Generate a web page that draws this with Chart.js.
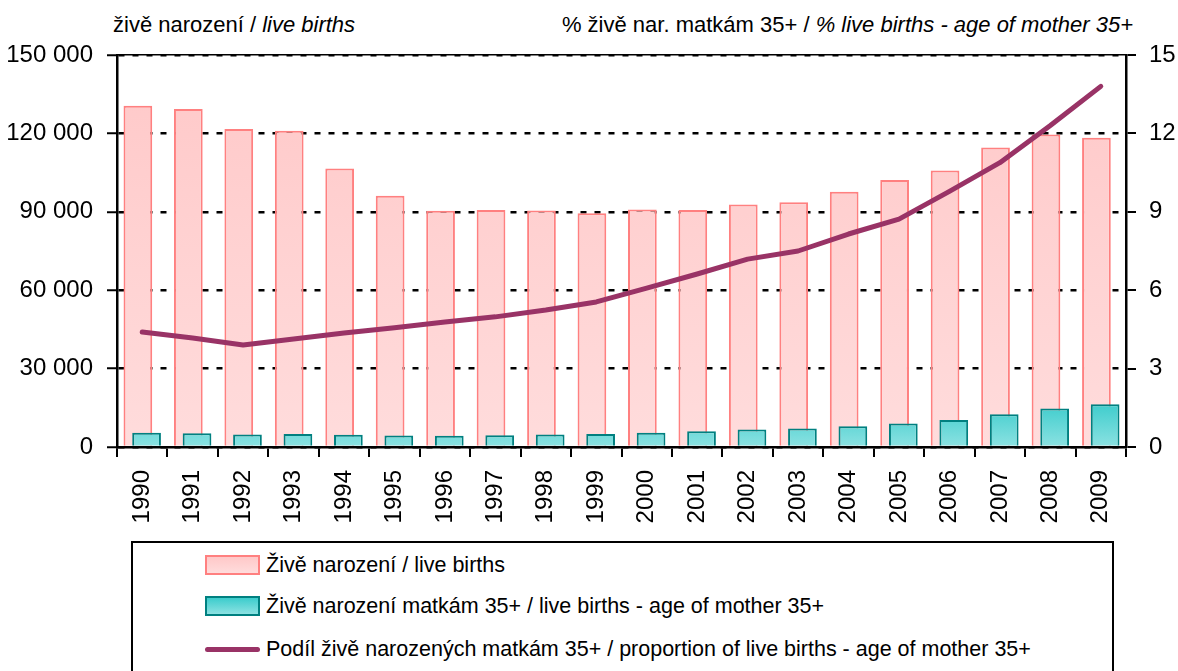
<!DOCTYPE html>
<html>
<head>
<meta charset="utf-8">
<script src="https://cdn.jsdelivr.net/npm/chart.js@4/dist/chart.umd.min.js"></script>
<style>
  html, body { margin: 0; padding: 0; background: #fff; }
  body { font-family: 'Liberation Sans Narrow', 'Arial Narrow', 'Liberation Sans', sans-serif; color: #000; }
  #wrap { position: relative; width: 1178px; height: 671px; overflow: hidden; }
  #plot { position: absolute; left: 0; top: 0; width: 1178px; height: 540px; }
  .ttl { position: absolute; top: 14px; font-size: 22px; line-height: 22px; white-space: nowrap; }
  #legend { position: absolute; left: 131px; top: 541px; width: 979px; height: 160px; border: 2px solid #000; }
  .row { position: absolute; left: 72px; height: 24px; display: flex; align-items: center; font-size: 21.5px; white-space: nowrap; }
  .sw { width: 51px; height: 16px; margin-right: 6px; box-sizing: content-box; }
  .ln { width: 55px; height: 5px; border-radius: 3px; margin-right: 6px; }
</style>
</head>
<body>
<div id="wrap">
  <div class="ttl" style="left:113px">živě narození / <i>live births</i></div>
  <div class="ttl" style="right:45px">% živě nar. matkám 35+ / <i>% live births - age of mother 35+</i></div>
  <div id="plot"><canvas id="chart"></canvas></div>
  <div id="legend"></div>
</div>
<script>
//************ data **************
const years = ['1990', '1991', '1992', '1993', '1994', '1995', '1996', '1997', '1998', '1999',
  '2000', '2001', '2002', '2003', '2004', '2005', '2006', '2007', '2008', '2009'];
// live births
const liveBirths = [130564, 129354, 121705, 121025, 106579, 96097, 90446, 90657, 90535, 89471,
  90910, 90715, 92786, 93685, 97664, 102211, 105831, 114632, 119570, 118348];
// live births, mother aged 35+
const births35 = [5500, 5250, 4750, 5000, 4650, 4400, 4300, 4500, 4750, 5000,
  5500, 6000, 6700, 7050, 7950, 8950, 10350, 12500, 14700, 16400];
// share of live births to mothers 35+ (%)
const share35 = [4.4, 4.17, 3.9, 4.13, 4.36, 4.56, 4.78, 4.98, 5.24, 5.55,
  6.08, 6.62, 7.19, 7.5, 8.15, 8.72, 9.78, 10.88, 12.3, 13.8];
const legendLabels = [
  'Živě narození / live births',
  'Živě narození matkám 35+ / live births - age of mother 35+',
  'Podíl živě narozených matkám 35+ / proportion of live births - age of mother 35+'
];
const leftMax = 150000, leftStep = 30000;
const rightMax = 15, rightStep = 3;

//************ styles **************
const FONT = "'Liberation Sans Narrow', 'Arial Narrow', 'Liberation Sans', sans-serif";
const pinkBorder = '#ff8080';
const tealBorder = '#008080';
const lineColor = '#993366';

Chart.defaults.font.family = FONT;
Chart.defaults.color = '#000';

const spaced = (v) => String(v).replace(/\B(?=(\d{3})+(?!\d))/g, ' ');

const pinkFill = (ctx) => {
  const area = ctx.chart.chartArea;
  if (!area) return '#ffcccc';
  const g = ctx.chart.ctx.createLinearGradient(0, area.top, 0, area.bottom);
  g.addColorStop(0, '#ffc8c8');
  g.addColorStop(1, '#ffdcdc');
  return g;
};
const tealFill = (ctx) => {
  const chart = ctx.chart;
  const area = chart.chartArea;
  if (!area) return '#40cccc';
  const y = chart.scales.y;
  const g = chart.ctx.createLinearGradient(0, y.getPixelForValue(17000), 0, y.getPixelForValue(0));
  g.addColorStop(0, '#3ccccc');
  g.addColorStop(1, '#8ce2e2');
  return g;
};

const barOpts = { categoryPercentage: 0.345, barPercentage: 3.3, borderWidth: 2 };

new Chart(document.getElementById('chart'), {
  type: 'bar',
  data: {
    labels: years,
    datasets: [
      { type: 'line', label: legendLabels[2], data: share35, yAxisID: 'y1', order: 0,
        borderColor: lineColor, borderWidth: 5, pointRadius: 0, tension: 0,
        borderCapStyle: 'round', borderJoinStyle: 'round' },
      // empty helper so that the pink bar takes the left slot while teal is drawn on top
      { label: '', data: years.map(() => null), stack: 'a', order: 1, ...barOpts },
      { label: legendLabels[1], data: births35, stack: 'b', order: 2, ...barOpts,
        backgroundColor: tealFill, borderColor: tealBorder },
      { label: legendLabels[0], data: liveBirths, stack: 'a', order: 3, ...barOpts,
        backgroundColor: pinkFill, borderColor: pinkBorder }
    ]
  },
  options: {
    responsive: true,
    maintainAspectRatio: false,
    animation: false,
    layout: { padding: { top: 55, left: 0, right: 0, bottom: 0 } },
    plugins: { legend: { display: false }, tooltip: { enabled: false } },
    scales: {
      x: {
        grid: { drawOnChartArea: false, offset: true, color: '#000', lineWidth: 2, tickLength: 10 },
        border: { color: '#000', width: 2.5 },
        ticks: { font: { size: 24 }, maxRotation: 90, minRotation: 90, padding: 13, autoSkip: false },
        afterFit: (s) => { s.height = 93; }
      },
      xTop: {
        type: 'category', position: 'top',
        grid: { display: false }, ticks: { display: false },
        border: { color: '#000', width: 1.5 },
        afterFit: (s) => { s.height = 0; }
      },
      y: {
        position: 'left', min: 0, max: leftMax,
        ticks: { stepSize: leftStep, font: { size: 24 }, padding: 14, callback: spaced },
        grid: { color: '#000', lineWidth: 2.5, tickLength: 10, tickColor: '#000', tickWidth: 2 },
        border: { color: '#000', width: 2.5, dash: [6, 8] },
        afterFit: (s) => { s.width = 117; }
      },
      y1: {
        position: 'right', min: 0, max: rightMax,
        ticks: { stepSize: rightStep, font: { size: 24 }, padding: 13 },
        grid: { drawOnChartArea: false, color: '#000', lineWidth: 2, tickLength: 10 },
        border: { color: '#000', width: 2.5 },
        afterFit: (s) => { s.width = 52; }
      }
    }
  }
});

//************ legend **************
const legend = document.getElementById('legend');
const rowTops = [10, 51, 94];
const swatches = [
  '<span class="sw" style="background:linear-gradient(#ffc8c8,#ffdcdc);border:2px solid ' + pinkBorder + '"></span>',
  '<span class="sw" style="background:linear-gradient(#3ccccc,#8ce2e2);border:2px solid ' + tealBorder + '"></span>',
  '<span class="ln" style="background:' + lineColor + '"></span>'
];
legendLabels.forEach((text, i) => {
  const row = document.createElement('div');
  row.className = 'row';
  row.style.top = rowTops[i] + 'px';
  row.innerHTML = swatches[i] + '<span>' + text + '</span>';
  legend.appendChild(row);
});
</script>
</body>
</html>
